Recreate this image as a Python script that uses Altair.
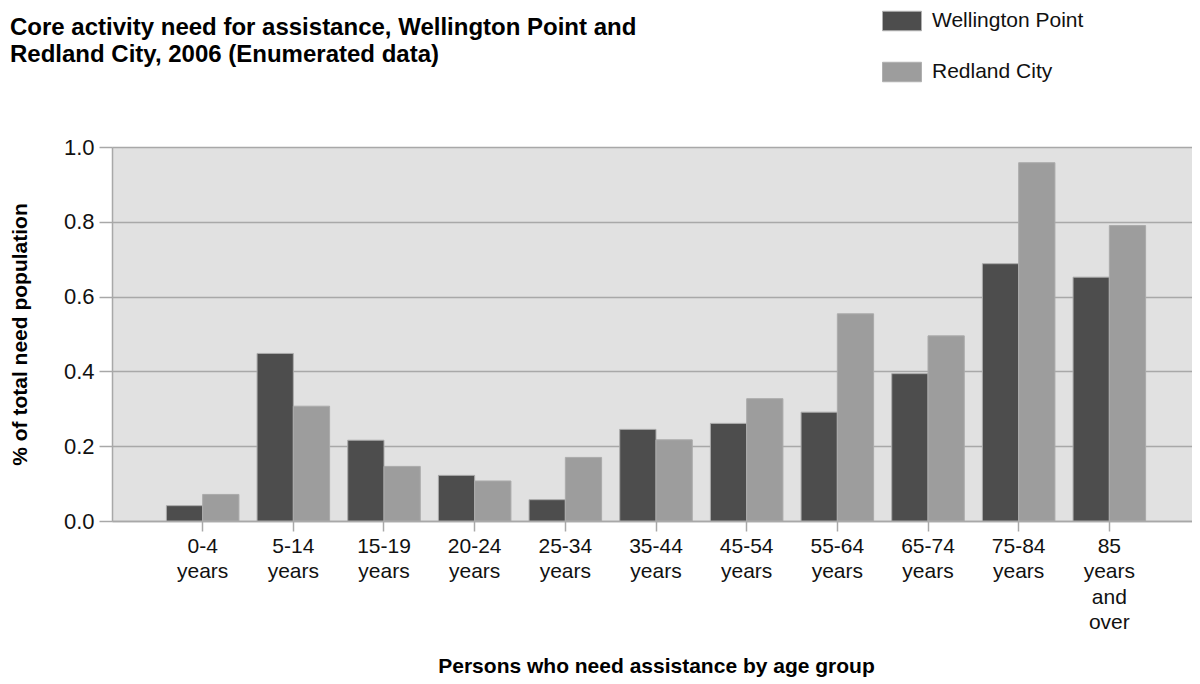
import altair as alt
import pandas as pd

age_groups = ["0-4 years", "5-14 years", "15-19 years", "20-24 years", "25-34 years",
              "35-44 years", "45-54 years", "55-64 years", "65-74 years", "75-84 years",
              "85 years and over"]
wellington_point = [0.041, 0.448, 0.216, 0.122, 0.057, 0.245, 0.261, 0.291, 0.394, 0.688, 0.652]
redland_city = [0.071, 0.307, 0.146, 0.107, 0.170, 0.217, 0.327, 0.554, 0.495, 0.958, 0.790]
series = ["Wellington Point", "Redland City"]
colors = ["#4d4d4d", "#9d9d9d"]
y_ticks = [0.0, 0.2, 0.4, 0.6, 0.8, 1.0]

rows = []
for i, g in enumerate(age_groups):
    rows.append({"age": g, "area": series[0], "value": wellington_point[i]})
    rows.append({"age": g, "area": series[1], "value": redland_city[i]})
df = pd.DataFrame(rows)

FONT = "Liberation Sans"

chart = alt.Chart(df).mark_bar(stroke="#ababab", strokeWidth=1).encode(
    x=alt.X("age:N", sort=age_groups,
            scale=alt.Scale(paddingInner=0.2, paddingOuter=0.6),
            axis=alt.Axis(title="Persons who need assistance by age group",
                          labelAngle=0, labelExpr="split(datum.label, ' ')",
                          labelFontSize=21, labelLineHeight=25.5, labelColor="#111111",
                          labelFont=FONT, labelPadding=4,
                          tickSize=10, tickColor="#a8a8a8", tickWidth=1.5,
                          domainColor="#a8a8a8", domainWidth=1.5,
                          titleFont=FONT, titleFontSize=21, titleFontWeight="bold",
                          titleColor="#000000", titlePadding=23)),
    xOffset=alt.XOffset("area:N", sort=series,
                        scale=alt.Scale(paddingInner=0, paddingOuter=0)),
    y=alt.Y("value:Q", scale=alt.Scale(domain=[0, 1.0], nice=False),
            axis=alt.Axis(title="% of total need population", values=y_ticks,
                          format=".1f", labelFontSize=22, labelFont=FONT,
                          labelColor="#111111", labelPadding=5,
                          tickSize=13, tickColor="#a8a8a8", tickWidth=1.5,
                          domainColor="#a8a8a8", domainWidth=1.5,
                          grid=True, gridColor="#a8a8a8", gridWidth=1.5,
                          titleFont=FONT, titleFontSize=21, titleFontWeight="bold",
                          titleColor="#000000", titlePadding=33)),
    color=alt.Color("area:N", sort=series,
                    scale=alt.Scale(domain=series, range=colors),
                    legend=alt.Legend(title=None, orient="none", legendX=770, legendY=-146,
                                      padding=0, symbolType="M-1,-0.5H1V0.5H-1Z",
                                      symbolSize=1521, symbolStrokeColor="#b0b0b0",
                                      symbolStrokeWidth=1, symbolOpacity=1,
                                      labelFont=FONT, labelFontSize=21, labelColor="#111111",
                                      labelOffset=10, rowPadding=19)),
).properties(
    width=1088,
    height=374,
    padding={"left": 104, "top": 139, "right": -8, "bottom": 158},
    autosize=alt.AutoSizeParams(type="none"),
    title=alt.TitleParams(
        text=["Core activity need for assistance, Wellington Point and",
              "Redland City, 2006 (Enumerated data)"],
        anchor="start", frame="group", font=FONT, fontSize=24, fontWeight="bold",
        color="#000000", lineHeight=27, dx=-102, offset=-66),
).configure_view(fill="#e1e1e1", stroke=None)

chart.save("out.html", embed_options={"renderer": "svg", "actions": False})
